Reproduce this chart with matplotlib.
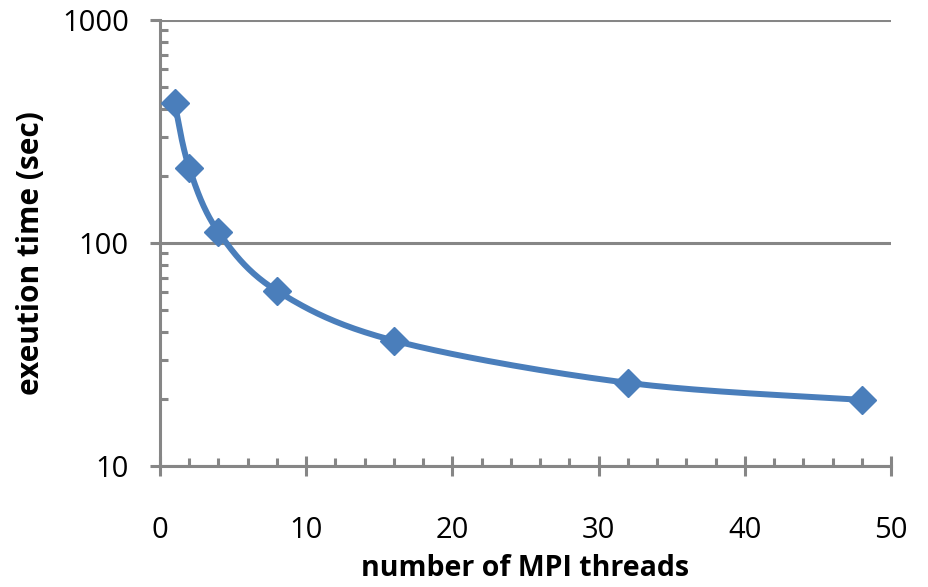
import numpy as np
import matplotlib
matplotlib.use("Agg")
import matplotlib.pyplot as plt
from matplotlib.ticker import FixedLocator, NullFormatter

threads = [1, 2, 4, 8, 16, 32, 48]
exec_time = [425, 217, 112, 61, 36.5, 23.6, 19.8]
x_ticks = [0, 10, 20, 30, 40, 50]
y_ticks = [10, 100, 1000]
y_tick_labels = ["10", "100", "1000"]

BLUE = "#4A7EBB"
GRAY = "#868686"

plt.rcParams['font.family'] = ['Open Sans', 'DejaVu Sans']

fig = plt.figure(figsize=(9.29, 5.87), dpi=100)
ax = fig.add_axes([160/929, 1-466/587, (891-160)/929, (466-20)/587])

# Catmull-Rom style smoothing (rendering only) in x / log-y space
px = np.array(threads, float)
py = np.log10(np.array(exec_time, float))
pts = np.column_stack([px, py])
ext = np.vstack([pts[0], pts, pts[-1]])
curve = []
for i in range(1, len(ext) - 2):
    p0, p1, p2, p3 = ext[i-1], ext[i], ext[i+1], ext[i+2]
    c1 = p1 + (p2 - p0) / 6
    c2 = p2 - (p3 - p1) / 6
    t = np.linspace(0, 1, 40)[:, None]
    seg = (1-t)**3*p1 + 3*(1-t)**2*t*c1 + 3*(1-t)*t**2*c2 + t**3*p2
    curve.append(seg)
curve = np.vstack(curve)
ax.plot(curve[:, 0], 10**curve[:, 1], color=BLUE, lw=4.3, solid_capstyle='round', zorder=3)
ax.plot(threads, exec_time, linestyle='none', marker='D', markersize=14.5,
        color=BLUE, zorder=4, clip_on=False)

ax.set_yscale('log')
ax.set_xlim(0, 50)
ax.set_ylim(10, 1000)

ax.set_xticks(x_ticks)
ax.set_xticklabels([str(v) for v in x_ticks])
ax.xaxis.set_minor_locator(FixedLocator(np.arange(0, 51, 2)))
ax.set_yticks(y_ticks)
ax.set_yticklabels(y_tick_labels)
ax.yaxis.set_minor_formatter(NullFormatter())

ax.yaxis.grid(True, which='major', color=GRAY, lw=2.2)
ax.set_axisbelow(True)

for s in ['top', 'right']:
    ax.spines[s].set_visible(False)
for s in ['left', 'bottom']:
    ax.spines[s].set_color(GRAY)
    ax.spines[s].set_linewidth(2.2)

ax.tick_params(axis='x', which='major', direction='inout', length=14, width=2.2, color=GRAY,
               labelsize=21, pad=29)
ax.tick_params(axis='x', which='minor', direction='in', length=5.5, width=2.2, color=GRAY)
ax.tick_params(axis='y', which='major', direction='out', length=7.5, width=2.2, color=GRAY,
               labelsize=21, pad=15)
ax.tick_params(axis='y', which='minor', direction='in', length=5.5, width=2.2, color=GRAY)

ax.set_xlabel("number of MPI threads", fontsize=20.5, fontweight='bold',
              va='baseline', ha='center')
ax.xaxis.set_label_coords(0.5, (466 - 576) / 446)
ax.set_ylabel("exeution time (sec)", fontsize=21.5, fontweight='bold',
              va='center', ha='center')
ax.yaxis.set_label_coords((31 - 160) / 731, (466 - 253.5) / 446)

fig.savefig("out.png", dpi=100)
